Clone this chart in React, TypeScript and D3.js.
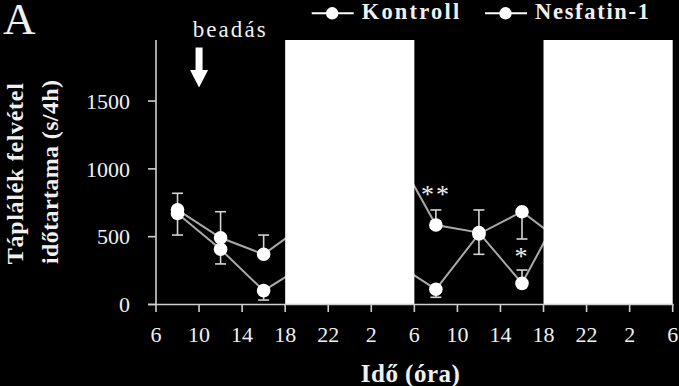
import React from "react";
import * as d3 from "d3";

// time offsets (hours after 6:00 on day 1)
const timePoints = [2, 6, 10, 14, 18, 22, 26, 30, 34, 38];
const kontroll: (number | null)[] = [698, 492, 370, 600, null, 1160, 586, 530, 156, 746];
const kontrollErrPlus = [122, 192, 142, 0, 0, 0, 111, 167, 98, 0];
const nesfatin: (number | null)[] = [671, 407, 102, 300, null, 318, 112, 520, 684, 444];
const nesfatinErrMinus = [159, 108, 69, 0, 0, 0, 59, 150, 201, 0];

const xTickOffsets = [0, 4, 8, 12, 16, 20, 24, 28, 32, 36, 40, 44, 48];
const xTickLabels = ["6", "10", "14", "18", "22", "2", "6", "10", "14", "18", "22", "2", "6"];
const yTicks = [0, 500, 1000, 1500];
const nights = [[12, 24], [36, 48]];
const injectionTime = 4;
const sigLabels = [
  { t: 26, v: 838, label: "**" },
  { t: 34, v: 381, label: "*" },
];

const W = 679, H = 386;
const FONT = "'Liberation Serif', 'Times New Roman', serif";

export default function App() {
  const x = d3.scaleLinear().domain([0, 48]).range([156, 672.7]);
  const y = d3.scaleLinear().domain([0, 1950]).range([304.5, 40]);

  const line = d3
    .line<[number, number | null]>()
    .defined((d) => d[1] != null)
    .x((d) => x(d[0]))
    .y((d) => y(d[1] as number));

  const series = [
    { name: "Kontroll", values: kontroll, err: kontrollErrPlus, sign: 1 },
    { name: "Nesfatin-1", values: nesfatin, err: nesfatinErrMinus, sign: -1 },
  ];

  const lineColor = "#a9a9a9";
  const errColor = "#d4d4d4";
  const axisColor = "#d0d0d0";
  const r = 6.8;
  const cap = 5.5;

  return (
    <svg
      width={W}
      height={H}
      style={{ position: "absolute", left: 0, top: 0, display: "block", background: "#000" }}
    >
      <rect x={0} y={0} width={W} height={H} fill="#000" />
      {/* lines */}
      {series.map((s) => (
        <path
          key={s.name}
          d={line(timePoints.map((t, i) => [t, s.values[i]] as [number, number | null])) || ""}
          fill="none"
          stroke={lineColor}
          strokeWidth={2}
        />
      ))}
      {/* error bars */}
      {series.map((s) =>
        timePoints.map((t, i) => {
          const v = s.values[i];
          const e = s.err[i];
          if (v == null || !e) return null;
          const y1 = y(v);
          const y2 = y(v + s.sign * e);
          const cx = x(t);
          return (
            <g key={s.name + i} stroke={errColor} strokeWidth={1.6}>
              <line x1={cx} x2={cx} y1={y1} y2={y2} />
              <line x1={cx - cap} x2={cx + cap} y1={y2} y2={y2} />
            </g>
          );
        })
      )}
      {/* markers */}
      {series.map((s) =>
        timePoints.map((t, i) => {
          const v = s.values[i];
          if (v == null) return null;
          return <circle key={s.name + "c" + i} cx={x(t)} cy={y(v)} r={r} fill="#fff" />;
        })
      )}
      {/* dark-phase boxes */}
      {nights.map(([a, b], i) => (
        <rect key={i} x={x(a)} y={y(1950)} width={x(b) - x(a)} height={y(0) - y(1950)} fill="#fff" />
      ))}
      {/* y axis */}
      <line x1={x(0)} x2={x(0)} y1={y(1950)} y2={y(0)} stroke={axisColor} strokeWidth={1.6} />
      {yTicks.map((v) => (
        <g key={v}>
          <line x1={x(0) - 8} x2={x(0)} y1={y(v)} y2={y(v)} stroke={axisColor} strokeWidth={1.6} />
          <text
            x={130}
            y={y(v)}
            dy="0.35em"
            textAnchor="end"
            fill="#f0f0f0"
            fontFamily={FONT}
            fontSize={22}
          >
            {v}
          </text>
        </g>
      ))}
      {/* x axis */}
      <line x1={x(0) - 8} x2={x(48) + 1} y1={y(0)} y2={y(0)} stroke={axisColor} strokeWidth={1.6} />
      {xTickOffsets.map((t, i) => (
        <g key={t}>
          <line x1={x(t)} x2={x(t)} y1={y(0)} y2={y(0) + 7.5} stroke={axisColor} strokeWidth={1.6} />
          <text
            x={x(t)}
            y={342}
            textAnchor="middle"
            fill="#f0f0f0"
            fontFamily={FONT}
            fontSize={22}
          >
            {xTickLabels[i]}
          </text>
        </g>
      ))}
      {/* significance */}
      {sigLabels.map((s) => (
        <text
          key={s.label}
          x={x(s.t)}
          y={y(s.v) + 12}
          textAnchor="middle"
          fill="#f0f0f0"
          fontFamily={FONT}
          fontSize={26}
          letterSpacing={2}
        >
          {s.label}
        </text>
      ))}
      {/* injection arrow */}
      <g fill="#fff">
        <rect x={x(injectionTime) - 3.5} y={47.5} width={7} height={23} />
        <path
          d={`M${x(injectionTime) - 9},70 L${x(injectionTime) + 9},70 L${x(injectionTime)},87.5 Z`}
        />
      </g>
      <text x={192.7} y={36.5} fill="#f0f0f0" fontFamily={FONT} fontSize={23} textLength={73}>
        beadás
      </text>
      {/* panel letter */}
      <text x={3} y={33.5} fill="#f0f0f0" fontFamily={FONT} fontSize={45}>
        A
      </text>
      {/* legend */}
      {series.map((s, i) => {
        const lx = [311.7, 485][i];
        const tx = [361.7, 535][i];
        const tl = [97.5, 114][i];
        return (
          <g key={s.name}>
            <line x1={lx} x2={lx + 42} y1={13.3} y2={13.3} stroke="#fff" strokeWidth={2} />
            <circle cx={lx + 20.5} cy={13.3} r={6.2} fill="#fff" />
            <text
              x={tx}
              y={19}
              fill="#f0f0f0"
              fontFamily={FONT}
              fontWeight="bold"
              fontSize={22.5}
              textLength={tl}
            >
              {s.name}
            </text>
          </g>
        );
      })}
      {/* axis titles */}
      <text
        x={410.3}
        y={381.5}
        textAnchor="middle"
        fill="#f0f0f0"
        fontFamily={FONT}
        fontWeight="bold"
        fontSize={25}
        textLength={99}
      >
        Idő (óra)
      </text>
      <text
        transform={`translate(23.3,173.7) rotate(-90)`}
        textAnchor="middle"
        fill="#f0f0f0"
        fontFamily={FONT}
        fontWeight="bold"
        fontSize={24}
        textLength={181}
      >
        Táplálék felvétel
      </text>
      <text
        transform={`translate(58.3,172) rotate(-90)`}
        textAnchor="middle"
        fill="#f0f0f0"
        fontFamily={FONT}
        fontWeight="bold"
        fontSize={24}
        textLength={184}
      >
        időtartama (s/4h)
      </text>
    </svg>
  );
}
